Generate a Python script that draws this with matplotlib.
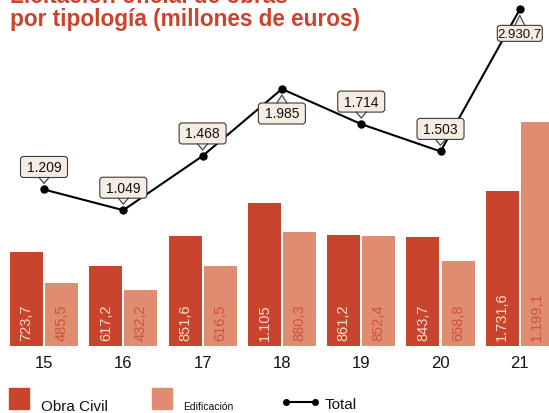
import matplotlib
matplotlib.use("Agg")
import matplotlib.pyplot as plt
from matplotlib.patches import FancyBboxPatch, Polygon, Rectangle
from matplotlib.lines import Line2D
from matplotlib.transforms import IdentityTransform

# ===== data =====
years = ["15", "16", "17", "18", "19", "20", "21"]
# bar heights as drawn (the 2021 pair is drawn swapped vs. its labels in the source)
obra_civil = [723.7, 617.2, 851.6, 1105.0, 861.2, 843.7, 1199.1]
edificacion = [485.5, 432.2, 616.5, 880.3, 852.4, 658.8, 1731.6]
obra_civil_labels = ["723,7", "617,2", "851,6", "1.105", "861,2", "843,7", "1.731,6"]
edificacion_labels = ["485,5", "432,2", "616,5", "880,3", "852,4", "658,8", "1.199,1"]
# total line as drawn (last point sits at the top edge in the source)
total = [1209, 1049, 1468, 1985, 1714, 1503, 2600]
total_labels = ["1.209", "1.049", "1.468", "1.985", "1.714", "1.503", "2.930,7"]
label_below = [False, False, False, True, False, False, True]

RED = "#c9442c"
SALMON = "#e08c70"
BOX_FC = "#f6ece2"
BOX_EC = "#3a3a3a"
W, H = 549, 414

plt.rcParams["font.family"] = ["Liberation Sans", "DejaVu Sans"]

fig = plt.figure(figsize=(W / 100, H / 100), dpi=100)
ax = fig.add_axes([0, 0, 1, 1])
ax.set_xlim(-0.555, 6.368)
ax.set_ylim(-517, 2680)
ax.axis("off")

x = list(range(len(years)))
off, bw = 0.221, 0.416
ax.bar([i - off for i in x], obra_civil, width=bw, color=RED, zorder=2)
ax.bar([i + off for i in x], edificacion, width=bw, color=SALMON, zorder=2)

for i in x:
    ax.annotate(obra_civil_labels[i], (i - off, 0), xytext=(0, 4.5),
                textcoords="offset points", rotation=90, ha="center", va="bottom",
                fontsize=10.5, color="#f5dcd0", zorder=3)
    ax.annotate(edificacion_labels[i], (i + off, 0), xytext=(0, 4.5),
                textcoords="offset points", rotation=90, ha="center", va="bottom",
                fontsize=10.5, color="#cf5238", zorder=3)
    ax.annotate(years[i], (i, 0), xytext=(0, -16 * 0.72),
                textcoords="offset points", ha="center", va="center",
                fontsize=12, color="#111111")

ax.plot(x, total, color="black", lw=1.5, marker="o", ms=5, zorder=4)


def callout(xv, yv, text, below):
    px, py = ax.transData.transform((xv, yv))
    s = -1 if below else 1
    if below and py > H - 30:
        w, h, fs, gap = 45, 16, 9.5, 16
    elif below:
        w, h, fs, gap = 47, 21, 10, 14
    else:
        w, h, fs, gap = 47, 21, 10, 12
    base = py + s * gap
    tip = py + s * 6
    cy = base + s * h / 2
    tr = IdentityTransform()
    ax.add_patch(FancyBboxPatch((px - w / 2, cy - h / 2), w, h,
                                boxstyle="round,pad=0,rounding_size=3",
                                fc=BOX_FC, ec=BOX_EC, lw=0.8, transform=tr, zorder=5))
    ax.add_patch(Polygon([(px - 5, base - s * 1), (px, tip), (px + 5, base - s * 1)],
                         closed=True, fc=BOX_FC, ec="none", transform=tr, zorder=6))
    ax.add_line(Line2D([px - 5, px, px + 5], [base, tip, base], color=BOX_EC,
                       lw=0.8, transform=tr, zorder=6))
    ax.text(px, cy, text, ha="center", va="center", fontsize=fs,
            color="#111111", transform=tr, zorder=7)


for i in x:
    callout(i, total[i], total_labels[i], label_below[i])

# title (cropped at the top in the source)
fig.text(10 / W, 1 - 3 / H, "Licitación oficial de obras", fontsize=16.3,
         fontweight="bold", color=RED, va="baseline")
fig.text(10 / W, 1 - 26 / H, "por tipología (millones de euros)", fontsize=16.3,
         fontweight="bold", color=RED, va="baseline")

# legend
fig.patches.append(Rectangle((9 / W, 4 / H), 20 / W, 21 / H, color=RED,
                             transform=fig.transFigure, figure=fig))
fig.text(41 / W, 3 / H, "Obra Civil", fontsize=11, color="#111111", va="baseline")
fig.patches.append(Rectangle((152 / W, 4 / H), 20 / W, 21 / H, color=SALMON,
                             transform=fig.transFigure, figure=fig))
fig.text(183 / W, 4 / H, "Edificación", fontsize=7.5, color="#111111", va="baseline")
fig.lines.append(Line2D([286 / W, 315 / W], [11 / H, 11 / H], color="black", lw=1.5,
                        marker="o", ms=4, transform=fig.transFigure, figure=fig))
fig.text(325 / W, 4.5 / H, "Total", fontsize=11, color="#111111", va="baseline")

fig.savefig("out.png", dpi=100)
